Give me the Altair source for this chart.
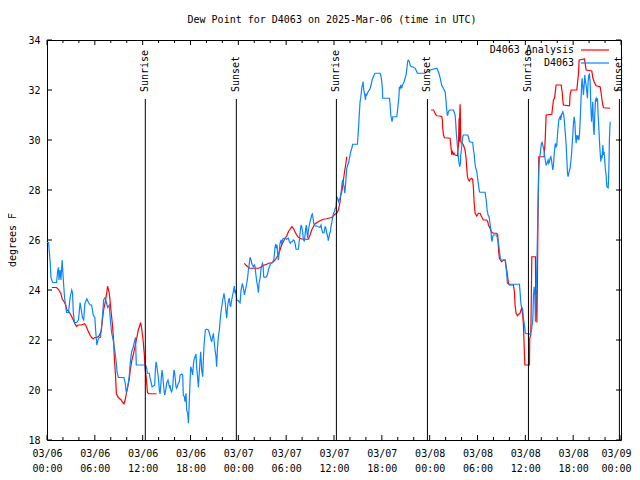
import altair as alt
import pandas as pd

# ---------------- data (hours since 2025-03-06 00:00 UTC, degrees F) ----------------
obs_hours = [0.0,0.2,0.4,0.5,0.7,1.2,1.35,1.45,1.5,1.65,1.75,1.9,2.05,2.2,2.45,2.7,2.9,3.1,3.2,3.3,3.45,3.7,3.95,4.15,4.3,4.45,4.6,4.75,5.0,5.2,5.4,5.6,5.8,6.0,6.1,6.25,6.4,6.55,6.7,6.8,7.0,7.1,7.3,7.45,7.6,7.8,7.95,8.1,8.3,8.5,8.65,8.8,8.95,9.3,9.65,9.8,9.95,10.1,10.3,10.45,10.6,10.8,10.95,11.1,11.2,12.3,
 12.42,12.5,12.59,12.84,12.92,13.05,13.17,13.34,13.51,13.59,13.68,13.76,13.84,13.93,14.01,14.09,14.18,14.26,14.35,14.43,14.51,14.6,14.68,14.76,14.85,14.93,15.01,15.18,15.26,15.35,15.43,15.52,15.64,15.77,15.85,15.93,16.02,16.1,16.18,16.27,16.48,16.6,16.69,16.9,17.02,17.1,17.23,17.31,17.44,17.52,17.65,17.73,17.81,17.94,18.02,18.15,18.27,18.36,18.44,18.57,18.69,18.78,18.9,18.99,19.07,19.2,19.28,19.4,19.53,19.61,19.7,19.78,19.86,20.03,20.24,20.36,20.53,20.66,20.78,20.87,20.95,21.08,21.2,21.28,21.37,21.49,21.62,21.7,21.83,21.95,22.04,22.12,22.2,22.29,22.37,22.45,22.54,22.62,22.7,22.79,22.87,22.96,23.04,23.17,23.29,23.37,23.5,23.58,23.67,23.8,24.0,24.22,
 24.34,24.43,24.51,24.64,24.76,24.84,24.97,25.09,25.18,25.26,25.35,25.47,25.6,25.68,25.76,25.89,26.01,26.1,26.18,26.31,26.43,26.52,26.6,26.73,26.85,27.02,27.1,27.18,27.35,27.56,27.69,27.77,27.9,27.98,28.1,28.27,28.44,28.52,28.61,28.69,28.77,28.86,28.94,29.02,29.15,29.23,29.36,29.44,29.53,29.65,29.86,30.07,30.28,30.4,30.53,30.61,30.78,30.9,31.03,31.11,31.24,31.53,31.66,31.78,31.87,31.95,32.08,32.16,32.28,32.37,32.45,32.54,32.62,32.7,32.79,32.91,32.99,33.12,33.2,33.29,33.37,33.45,33.54,33.62,33.83,34.04,34.25,34.37,34.46,34.58,34.75,34.88,34.96,35.09,35.21,35.29,35.38,35.46,35.55,35.63,35.71,35.84,35.96,36.05,36.13,36.26,36.34,36.46,36.55,36.63,
 36.76,36.89,37.01,37.1,37.18,37.27,37.35,37.43,37.52,37.6,37.73,37.85,37.93,38.02,38.1,38.23,38.35,38.94,39.02,39.11,39.19,39.27,39.36,39.48,39.56,39.65,39.69,39.77,39.86,39.94,40.02,40.11,40.19,40.32,40.44,40.53,40.65,40.78,40.94,41.07,41.15,41.78,41.86,41.99,42.07,42.11,42.95,43.03,43.12,43.2,43.28,43.37,43.87,43.95,44.08,44.16,44.2,44.29,44.37,44.5,44.58,44.71,44.79,44.92,45.04,45.12,45.25,45.33,45.46,45.54,45.67,45.88,46.04,46.17,46.29,46.38,46.46,47.42,47.63,47.84,48.05,
 48.9,49.1,49.3,49.5,49.94,50.06,50.14,50.23,50.31,50.39,50.56,50.98,51.06,51.19,51.27,51.36,51.44,51.52,51.61,51.69,51.77,51.86,51.9,51.98,52.07,52.15,52.23,52.78,52.9,52.99,53.4,53.49,53.57,53.66,53.74,53.91,53.99,54.07,54.16,54.24,54.32,54.95,55.03,55.12,55.2,55.33,55.45,55.54,55.62,55.7,55.75,55.83,55.91,56.0,56.41,56.5,56.62,56.71,56.79,56.87,56.96,57.5,57.58,57.67,57.75,57.88,59.13,59.26,59.34,59.42,59.51,59.59,59.67,59.76,59.84,59.93,60.01,60.59,
 60.73,60.81,60.94,61.02,61.11,61.19,61.27,61.31,61.36,61.44,61.52,61.61,61.69,61.77,61.86,61.94,62.03,62.11,62.19,62.28,62.36,62.44,62.53,62.61,62.69,62.78,62.86,62.94,63.03,63.11,63.2,63.28,63.36,63.45,63.53,63.61,63.7,63.78,63.86,63.95,64.03,64.12,64.2,64.28,64.37,64.45,64.53,64.62,64.7,64.78,64.87,64.95,65.03,65.12,65.2,65.29,65.37,65.45,65.54,65.62,65.7,65.79,65.87,65.95,66.04,66.12,66.21,66.29,66.37,66.46,66.54,66.62,66.71,66.79,66.87,66.96,67.04,67.12,67.21,67.29,67.38,67.46,67.54,67.63,67.71,67.79,67.88,67.96,68.04,68.13,68.21,68.3,68.38,68.46,68.55,68.63,68.71,68.8,68.88,68.96,69.05,69.13,69.22,69.3,69.38,69.47,69.55,69.63,69.72,69.8,69.88,69.97,70.05,70.13,70.22,70.39,70.47,70.55,70.64]

obs_dewpoint = [25.9,25.9,25.1,24.5,24.3,24.3,24.8,24.9,24.4,24.8,24.4,25.2,24.4,23.7,23.1,23.1,23.7,24.0,23.9,23.1,22.7,22.7,22.8,23.5,23.2,22.9,22.8,23.45,23.65,23.5,23.4,23.4,23.0,22.9,22.4,21.8,22.0,22.1,22.1,22.4,23.1,23.6,23.7,23.5,23.3,23.4,22.8,22.3,22.0,21.6,21.2,20.7,20.5,20.5,20.5,20.3,19.9,20.1,20.5,21.1,21.5,21.7,21.9,22.1,21.0,21.0,
 20.97,20.87,20.67,20.67,20.47,20.33,20.13,20.16,20.2,20.8,21.13,21.0,20.8,20.6,20.33,20.0,19.84,20.13,20.53,20.8,20.6,20.27,20.0,19.8,19.93,20.07,20.27,20.4,20.27,20.13,20.2,20.0,19.93,20.13,20.53,20.8,20.67,20.4,20.13,20.07,20.27,20.33,20.6,20.64,20.6,19.8,19.73,19.53,19.87,19.2,19.07,18.67,19.2,20.33,20.93,20.8,20.6,21.0,21.2,21.33,21.44,20.87,20.47,20.11,20.53,21.2,21.53,20.8,20.53,21.2,21.8,22.11,22.4,22.43,22.4,22.29,22.07,21.93,22.13,22.27,22.0,21.6,21.33,20.93,21.6,22.11,22.4,22.73,23.13,23.4,23.6,23.73,23.87,23.67,23.47,23.13,22.87,23.2,23.47,23.6,23.67,23.4,23.33,23.6,23.8,23.93,24.16,23.87,24.0,23.6,23.57,23.49,
 24.0,24.13,24.27,24.07,23.8,23.93,24.13,24.33,24.53,24.8,25.0,25.31,25.2,25.07,25.0,24.93,25.0,24.93,24.67,24.33,24.13,23.89,24.27,24.47,24.87,25.07,25.0,24.53,24.51,24.53,24.67,24.8,24.93,25.0,25.07,25.09,25.2,25.4,25.73,25.84,25.67,25.8,25.4,25.2,25.6,25.87,26.0,25.8,26.0,26.07,26.07,26.03,26.07,25.93,25.87,25.93,25.93,26.0,25.97,25.87,25.63,25.63,26.0,26.4,26.6,26.53,26.29,26.0,25.97,26.2,26.47,26.6,26.27,26.07,26.4,26.6,26.73,26.87,27.0,27.04,26.87,26.69,26.6,26.56,26.56,26.53,26.51,26.6,26.43,26.29,26.29,26.53,26.51,26.27,26.13,25.97,26.13,26.27,26.33,26.56,26.67,26.93,27.09,27.13,27.23,27.33,27.73,27.67,27.53,27.6,
 27.67,27.91,28.27,28.4,28.23,28.13,27.87,28.13,28.53,28.87,29.0,29.11,29.27,29.4,29.53,29.67,29.83,29.83,30.2,30.67,31.13,31.53,31.69,32.07,32.2,32.33,32.13,31.93,31.8,31.6,31.83,31.8,31.87,31.96,32.0,32.07,32.2,32.4,32.53,32.63,32.67,32.67,32.6,32.33,32.07,31.67,31.67,31.47,31.0,30.87,30.73,30.93,30.93,31.13,31.53,31.8,32.13,32.07,32.2,32.07,32.2,32.27,32.33,32.47,32.6,32.8,33.16,33.19,33.13,33.0,32.93,32.93,32.89,32.87,32.8,32.73,32.67,32.67,32.73,32.73,32.8,
 32.87,32.73,32.5,32.2,31.93,31.55,31.2,30.97,31.07,31.16,31.2,31.2,31.13,31.0,30.67,30.2,29.93,29.6,29.27,29.07,28.93,29.07,29.4,29.6,29.93,30.13,30.2,30.2,30.07,29.93,29.9,29.6,29.47,29.13,28.93,28.73,28.53,28.33,28.13,27.93,27.91,27.91,27.73,27.53,27.2,27.0,26.93,26.73,26.53,26.33,26.07,25.93,26.13,26.2,26.2,26.07,25.93,25.67,25.47,25.27,25.2,25.2,24.93,24.6,24.27,24.23,24.23,24.23,23.93,23.53,23.33,23.27,23.2,22.87,22.73,22.47,22.27,22.23,
 22.33,22.47,22.87,23.8,24.13,23.8,22.73,23.27,24.07,24.87,26.2,27.67,28.8,29.27,29.4,29.67,29.87,29.91,29.8,29.67,29.53,29.33,29.13,29.0,29.03,29.13,29.2,29.07,29.13,29.27,29.33,29.2,29.0,28.8,29.0,29.4,29.73,29.87,29.73,29.8,30.2,30.53,30.8,30.87,30.93,30.8,31.0,31.07,31.13,31.03,30.87,30.53,30.2,29.8,29.27,28.67,28.53,28.67,28.8,28.87,29.13,29.4,29.8,30.2,30.67,30.93,30.73,30.2,29.87,30.2,30.07,30.13,30.0,30.2,30.73,31.4,32.07,32.47,32.13,31.8,32.2,32.6,32.33,32.2,31.93,31.67,32.33,32.6,32.63,32.33,31.4,30.73,31.07,31.53,30.47,30.2,31.0,31.6,31.67,31.53,31.67,31.0,30.47,29.93,29.53,29.13,29.4,29.27,29.8,29.4,29.53,29.13,28.8,28.6,28.13,28.09,28.73,30.07,30.73]

ana_hours = [0.6,1.2,1.5,1.75,1.9,2.2,2.35,2.5,2.7,3.0,3.3,3.5,3.7,3.9,4.35,4.7,4.85,5.1,5.4,5.6,5.8,6.0,6.25,6.5,6.8,6.95,7.1,7.3,7.5,7.6,7.8,7.9,8.05,8.2,8.35,8.45,8.6,8.7,8.95,9.3,9.5,9.65,9.8,9.95,10.15,10.3,10.45,10.65,10.85,11.05,11.3,11.45,11.65,11.75,11.9,12.05,12.2,12.3,12.45,12.6,12.75,13.75,
 24.76,24.93,25.18,25.43,25.68,26.1,26.52,26.73,26.93,27.27,27.56,27.77,28.19,28.4,28.61,28.82,29.02,29.23,29.44,29.65,29.86,30.07,30.28,30.49,30.7,30.9,31.11,31.32,31.53,31.74,31.95,32.37,32.79,32.99,33.2,33.41,33.62,33.83,34.04,34.25,34.46,34.67,35.09,35.29,35.71,35.92,36.13,36.34,36.55,36.68,36.76,36.85,36.97,37.1,37.18,37.27,37.35,37.43,37.52,37.6,
 48.18,48.47,48.6,48.72,48.89,49.31,49.52,49.6,49.64,49.73,49.85,50.56,50.65,50.73,50.77,50.85,50.98,51.06,51.19,51.48,51.61,51.69,51.73,51.77,51.82,51.86,51.9,52.07,52.23,52.44,52.57,52.65,52.74,52.86,52.99,53.07,53.28,53.4,53.49,53.57,53.7,53.91,54.12,54.32,54.45,54.62,54.74,55.16,55.29,55.37,55.58,55.79,56.0,56.41,56.54,56.58,56.66,56.75,56.87,57.04,57.25,57.46,57.58,57.67,57.75,57.88,58.0,58.5,58.63,58.71,58.84,59.01,59.13,59.34,59.47,59.55,59.63,59.76,59.85,59.94,60.52,60.55,60.69,60.77,60.81,61.27,61.3,61.36,61.45,61.52,61.57,61.62,61.69,62.36,62.49,62.61,63.32,63.53,63.66,63.86,64.49,64.62,64.7,64.78,65.54,65.62,65.75,66.46,66.54,66.67,66.75,67.42,67.5,67.63,68.34,68.46,68.63,68.88,69.38,69.51,69.59,69.72,69.8,70.64]

ana_dewpoint = [24.1,24.1,24.0,23.85,23.65,23.5,23.4,23.2,23.15,23.0,22.8,22.65,22.55,22.6,22.6,22.65,22.6,22.4,22.2,22.1,22.05,22.1,22.1,22.15,22.35,22.8,23.2,23.5,23.9,24.15,23.9,23.6,23.1,22.65,22.0,21.25,20.55,19.85,19.7,19.6,19.5,19.45,19.6,19.85,20.15,20.4,20.8,21.2,21.45,21.75,22.15,22.4,22.6,22.7,22.4,22.0,21.45,20.9,20.5,19.9,19.85,19.85,
 25.07,25.0,24.93,24.87,24.87,24.87,24.87,24.9,24.93,25.0,25.03,25.07,25.09,25.13,25.2,25.31,25.4,25.6,25.8,25.93,26.07,26.16,26.33,26.43,26.53,26.47,26.33,26.2,26.11,26.07,26.04,26.03,26.03,26.2,26.4,26.53,26.64,26.69,26.73,26.77,26.8,26.83,26.85,26.87,26.9,26.96,27.04,27.07,27.2,27.4,27.53,27.8,27.93,28.2,28.4,28.6,28.8,28.93,29.13,29.33,
 31.2,31.2,31.13,31.03,30.97,30.96,30.93,30.76,30.47,30.2,30.09,30.07,29.8,29.53,29.4,29.53,29.43,29.47,29.4,29.37,29.8,30.87,29.93,31.0,31.43,30.87,29.93,29.87,29.8,29.6,29.27,28.87,28.53,28.4,28.36,28.43,28.47,28.4,28.07,27.53,27.07,26.96,27.07,27.07,26.97,26.87,26.8,26.8,26.73,26.6,26.47,26.31,26.27,26.27,26.2,25.93,25.53,25.27,25.2,25.13,25.2,25.2,24.93,24.8,24.6,24.27,24.2,24.2,23.93,23.4,23.07,22.97,23.02,23.07,23.2,23.33,23.13,22.6,21.8,21.0,21.0,22.07,22.2,24.23,25.33,25.33,23.4,24.0,22.7,24.5,26.3,27.7,29.33,29.33,30.0,31.0,31.03,31.6,31.67,32.2,32.2,31.93,31.6,31.4,31.37,31.83,32.0,32.0,32.27,32.67,33.2,33.24,33.07,32.8,32.76,32.5,32.33,32.17,32.13,31.87,31.67,31.4,31.29,31.27]

sun_hours = [12.33, 23.75, 36.3, 47.72, 60.39, 71.8]
sun_labels = ["Sunrise", "Sunset", "Sunrise", "Sunset", "Sunrise", "Sunset"]

y_ticks = [18, 20, 22, 24, 26, 28, 30, 32, 34]
x_major = list(range(0, 73, 6))
x_minor = [h for h in range(0, 73, 2) if h % 6 != 0]

series_names = ["D4063 Analysis", "D4063"]
series_colors = ["#ff0000", "#0a84ff"]

title_text = "Dew Point for D4063 on 2025-Mar-06 (time in UTC)"
y_title = "degrees F"

# ---------------- frames ----------------
obs_df = pd.DataFrame({"hour": obs_hours, "dewpoint": obs_dewpoint})
obs_df["idx"] = range(len(obs_df))
ana_df = pd.DataFrame({"hour": ana_hours, "dewpoint": ana_dewpoint})
ana_df["idx"] = range(len(ana_df))
ana_df["seg"] = (ana_df["hour"].diff().fillna(0) > 3).cumsum()

sun_df = pd.DataFrame({"hour": sun_hours, "label": sun_labels})
ytick_df = pd.DataFrame({"dewpoint": y_ticks})
xmaj_df = pd.DataFrame({"hour": x_major})
xmin_df = pd.DataFrame({"hour": x_minor})
one = pd.DataFrame({"a": [0]})

FONT = "DejaVu Sans Mono"
W, H = 574, 400

x_scale = alt.Scale(domain=[0, 72], nice=False, zero=False)
y_scale = alt.Scale(domain=[18, 34], nice=False, zero=False)

x_axis = alt.Axis(
    values=x_major, ticks=False, domain=False, grid=False, title=None,
    labelExpr="['03/0' + (6 + floor(datum.value / 24)), (datum.value % 24 < 10 ? '0' : '') + (datum.value % 24) + ':00']",
    labelPadding=8, labelLineHeight=15, labelFont=FONT, labelFontSize=10,
    labelColor="black", labelFlush=False, labelOverlap=False,
    labelOffset={"condition": {"test": "datum.value >= 72", "value": -5}, "value": 0},
)
y_axis = alt.Axis(
    values=y_ticks, ticks=False, domain=False, grid=False, title=None,
    labelPadding=7, labelFont=FONT, labelFontSize=10, labelColor="black",
)

X = alt.X("hour:Q", scale=x_scale, axis=x_axis)
Y = alt.Y("dewpoint:Q", scale=y_scale, axis=y_axis)

ana_line = alt.Chart(ana_df).mark_line(color=series_colors[0], strokeWidth=1.2).encode(
    x=X, y=Y, detail="seg:N", order="idx:Q")
obs_line = alt.Chart(obs_df).mark_line(color=series_colors[1], strokeWidth=1.2).encode(
    x=X, y=Y, order="idx:Q")

sun_rule = alt.Chart(sun_df).mark_rule(color="black", strokeWidth=1).encode(
    x=X, y=alt.value(59), y2=alt.value(H))
sun_text = alt.Chart(sun_df).mark_text(
    angle=270, align="left", baseline="middle", font=FONT, fontSize=10, color="black"
).encode(x=X, y=alt.value(52), text="label:N")

# ticks (inward, on all four sides)
ytick_l = alt.Chart(ytick_df).mark_rule(color="black").encode(y=Y, x=alt.value(0), x2=alt.value(5))
ytick_r = alt.Chart(ytick_df).mark_rule(color="black").encode(y=Y, x=alt.value(W - 5), x2=alt.value(W))
xmaj_b = alt.Chart(xmaj_df).mark_rule(color="black").encode(x=X, y=alt.value(H - 5), y2=alt.value(H))
xmaj_t = alt.Chart(xmaj_df).mark_rule(color="black").encode(x=X, y=alt.value(0), y2=alt.value(5))
xmin_b = alt.Chart(xmin_df).mark_rule(color="black").encode(x=X, y=alt.value(H - 3), y2=alt.value(H))
xmin_t = alt.Chart(xmin_df).mark_rule(color="black").encode(x=X, y=alt.value(0), y2=alt.value(3))

# legend (text left of the line sample, as gnuplot does)
legend_layers = []
for i, (name, col) in enumerate(zip(series_names, series_colors)):
    yy = 10 + 13 * i
    legend_layers.append(
        alt.Chart(one).mark_text(align="right", baseline="middle", font=FONT, fontSize=10, color="black")
        .encode(x=alt.value(527), y=alt.value(yy), text=alt.value(name)))
    legend_layers.append(
        alt.Chart(one).mark_rule(color=col, strokeWidth=1.2)
        .encode(x=alt.value(534), x2=alt.value(562), y=alt.value(yy)))

title_mark = alt.Chart(one).mark_text(
    align="center", baseline="middle", font=FONT, fontSize=10, color="black"
).encode(x=alt.value(285), y=alt.value(-20), text=alt.value(title_text))
ytitle_mark = alt.Chart(one).mark_text(
    align="center", baseline="middle", angle=270, font=FONT, fontSize=10, color="black"
).encode(x=alt.value(-34), y=alt.value(200), text=alt.value(y_title))

chart = alt.layer(
    ana_line, obs_line, sun_rule, sun_text,
    ytick_l, ytick_r, xmaj_b, xmaj_t, xmin_b, xmin_t,
    *legend_layers, title_mark, ytitle_mark,
).properties(
    width=W, height=H,
    autosize=alt.AutoSizeParams(type="none"),
    padding={"left": 39, "top": 32, "right": 11, "bottom": 32},
).configure_view(stroke="black", strokeWidth=1)

chart.save("out.html", embed_options={"renderer": "svg", "actions": False})
